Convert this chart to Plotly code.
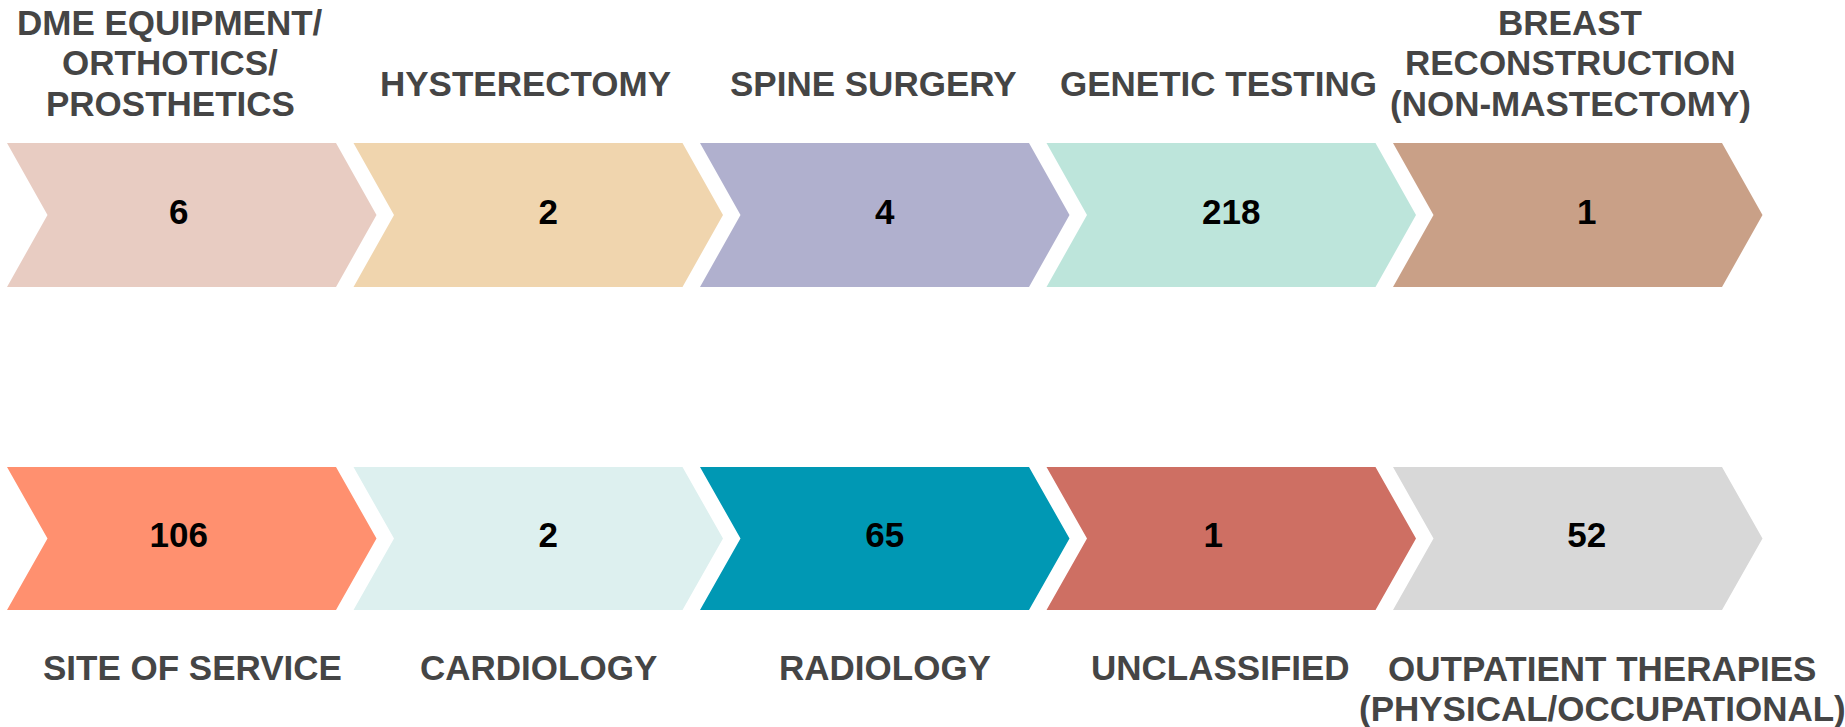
import plotly.graph_objects as go

# ---- data ----
top_categories = ["DME EQUIPMENT/<br>ORTHOTICS/<br>PROSTHETICS", "HYSTERECTOMY", "SPINE SURGERY",
                  "GENETIC TESTING", "BREAST<br>RECONSTRUCTION<br>(NON-MASTECTOMY)"]
top_values = [6, 2, 4, 218, 1]
bottom_categories = ["SITE OF SERVICE", "CARDIOLOGY", "RADIOLOGY", "UNCLASSIFIED",
                     "OUTPATIENT THERAPIES<br>(PHYSICAL/OCCUPATIONAL)"]
bottom_values = [106, 2, 65, 1, 52]

# ---- styles ----
top_colors = ["#E8CCC2", "#F0D5AE", "#B0B0CE", "#BDE5DB", "#C9A087"]
bottom_colors = ["#FF906F", "#DDF0EF", "#0098B4", "#CE6F63", "#D8D8D8"]
FONT = "Liberation Sans, Arial, sans-serif"
LABEL_COLOR = "#454545"

W, H = 1845, 727
X0, PITCH, BODY, DEPTH = 7, 346.5, 329, 40.5
rows = [dict(top=143, bot=287), dict(top=467, bot=610)]
top_label_dx = [163, 172, 173, 172, 177]
bottom_label_dx = [185, 185, 185, 174, 209]
top_value_dx = [-13, 10, 0, 0, 9]
bottom_value_dx = [-13, 10, 0, -18, 9]
LINE_PITCH = 40.5

fig = go.Figure()

def add_row(values, colors, r, vdx):
    top, bot = r["top"], r["bot"]
    mid = (top + bot) / 2
    tx, ty, tt = [], [], []
    for i, (v, c) in enumerate(zip(values, colors)):
        x0 = X0 + i * PITCH
        xs = [x0, x0 + BODY, x0 + BODY + DEPTH, x0 + BODY, x0, x0 + DEPTH, x0]
        ys = [top, top, mid, bot, bot, mid, top]
        fig.add_trace(go.Scatter(x=xs, y=ys, mode="lines", fill="toself", fillcolor=c,
                                 line=dict(width=0, color=c), hoverinfo="skip", showlegend=False))
        tx.append(x0 + (BODY + DEPTH) / 2 + vdx[i])
        ty.append(mid)
        tt.append(str(v))
    fig.add_trace(go.Scatter(x=tx, y=ty, mode="text", text=tt,
                             textfont=dict(family=FONT, size=35, color="#000000", weight="bold"),
                             textposition="middle center", hoverinfo="skip", showlegend=False))

add_row(top_values, top_colors, rows[0], top_value_dx)
add_row(bottom_values, bottom_colors, rows[1], bottom_value_dx)

def add_labels(cats, dxs, first_line_y_fn):
    for i, (cat, dx) in enumerate(zip(cats, dxs)):
        lines = cat.split("<br>")
        y_start = first_line_y_fn(len(lines))
        for j, line in enumerate(lines):
            fig.add_annotation(x=X0 + i * PITCH + dx, y=y_start + j * LINE_PITCH,
                               xref="x", yref="y", text=line, showarrow=False,
                               xanchor="center", yanchor="middle",
                               font=dict(family=FONT, size=35, color=LABEL_COLOR, weight="bold"))

add_labels(top_categories, top_label_dx, lambda n: 83 if n == 1 else 22)
add_labels(bottom_categories, bottom_label_dx, lambda n: 667 if n == 1 else 668)

fig.update_xaxes(range=[0, W], visible=False, fixedrange=True)
fig.update_yaxes(range=[H, 0], visible=False, fixedrange=True)
fig.update_layout(width=W, height=H, margin=dict(l=0, r=0, t=0, b=0),
                  paper_bgcolor="white", plot_bgcolor="white", showlegend=False)

fig.write_html("out.html", config={"displayModeBar": False},
               post_script="document.body.style.margin='0';document.body.style.overflow='hidden';")
